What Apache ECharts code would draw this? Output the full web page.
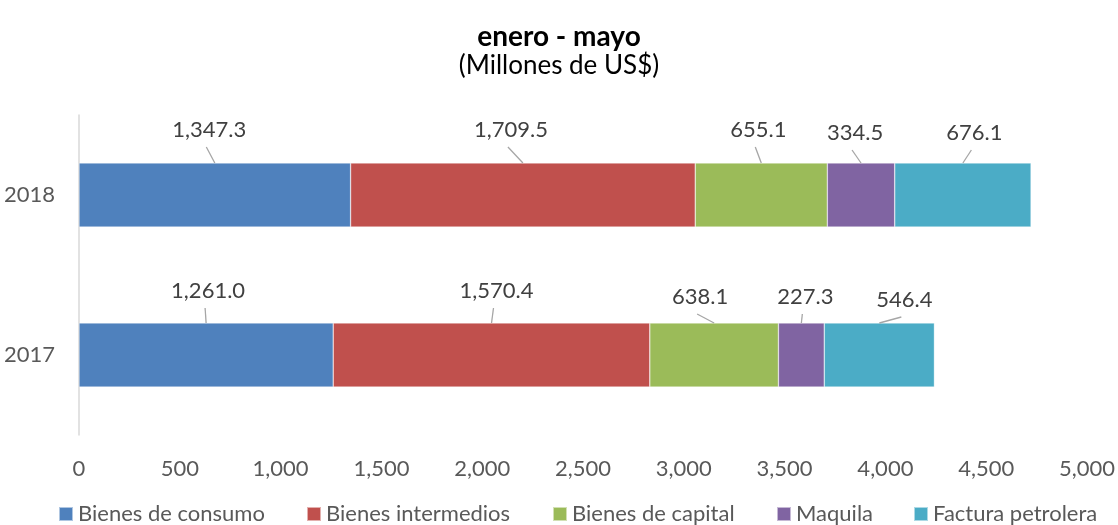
<!DOCTYPE html>
<html>
<head>
<meta charset="utf-8">
<script src="https://cdn.jsdelivr.net/npm/echarts@6/dist/echarts.min.js"></script>
<style>
html,body{margin:0;padding:0;background:#fff;}
#chart{width:1118px;height:525px;}
</style>
</head>
<body>
<div id="chart"></div>
<script>
var categories = ['2017', '2018'];
var seriesNames = ['Bienes de consumo', 'Bienes intermedios', 'Bienes de capital', 'Maquila', 'Factura petrolera'];
var bienesConsumo = [1261.0, 1347.3];
var bienesIntermedios = [1570.4, 1709.5];
var bienesCapital = [638.1, 655.1];
var maquila = [227.3, 334.5];
var facturaPetrolera = [546.4, 676.1];
var xTicks = [0, 500, 1000, 1500, 2000, 2500, 3000, 3500, 4000, 4500, 5000];

var seriesValues = [bienesConsumo, bienesIntermedios, bienesCapital, maquila, facturaPetrolera];
var colors = ['#4F81BD', '#C0504D', '#9BBB59', '#8064A2', '#4BACC6'];
var FONT = 'Lato';
var BAR_W = 64;

// layout: label nudges (pixels) relative to segment top-centre, per category then series
var labelNudge = {
  '2017': [[2, -32], [5, -32], [-14, -26], [4, -26], [25, -23]],
  '2018': [[-5.5, -33], [-12, -33], [-3, -33], [-6, -30], [11.5, -30]]
};

function fmt(v, d) {
  return Number(v).toLocaleString('en-US', {minimumFractionDigits: d, maximumFractionDigits: d});
}

var labelItems = [];
categories.forEach(function (c, ci) {
  var acc = 0;
  seriesValues.forEach(function (arr, si) {
    labelItems.push([acc + arr[ci] / 2, ci, arr[ci], si]);
    acc += arr[ci];
  });
});

var legendLefts = [58, 306, 552, 776, 913];

var chart = echarts.init(document.getElementById('chart'));
var series = seriesNames.map(function (n, i) {
  return {
    name: n,
    type: 'bar',
    stack: 'total',
    barWidth: BAR_W,
    data: seriesValues[i],
    itemStyle: {color: colors[i], borderColor: 'rgba(255,255,255,0.55)', borderWidth: 0.6}
  };
});
series.push({
  type: 'custom',
  name: 'labels',
  silent: true,
  z: 5,
  data: labelItems,
  encode: {x: 0, y: 1},
  renderItem: function (params, api) {
    var ci = api.value(1), si = api.value(3);
    var p = api.coord([api.value(0), ci]);
    var top = p[1] - BAR_W / 2;
    var nudge = labelNudge[categories[ci]][si];
    var lx = p[0] + nudge[0];
    var ly = top + nudge[1];
    var children = [{
      type: 'text',
      style: {
        x: lx, y: ly, text: fmt(api.value(2), 1),
        align: 'center', verticalAlign: 'middle',
        fontFamily: FONT, fontSize: 22, fill: '#404040'
      }
    }];
    var lineTop = ly + 17;
    if (top - lineTop > 3) {
      children.push({
        type: 'line',
        shape: {x1: p[0], y1: top, x2: lx - 3, y2: lineTop},
        style: {stroke: '#a6a6a6', lineWidth: 1.3}
      });
    }
    return {type: 'group', children: children};
  }
});

chart.setOption({
  animation: false,
  textStyle: {fontFamily: FONT},
  title: [{
    text: 'enero - mayo',
    left: 'center',
    top: 18,
    textStyle: {fontFamily: FONT, fontSize: 28, fontWeight: 'bold', color: '#000'}
  }, {
    text: '(Millones de US$)',
    left: 'center',
    top: 48,
    textStyle: {fontFamily: FONT, fontSize: 26, fontWeight: 'normal', color: '#000'}
  }],
  legend: seriesNames.map(function (n, i) {
    return {
      data: [n],
      left: legendLefts[i],
      top: 503,
      padding: 0,
      itemWidth: 14,
      itemHeight: 14,
      icon: 'rect',
      textStyle: {fontFamily: FONT, fontSize: 22, color: '#595959', padding: [0, 0, 0, 0]}
    };
  }),
  grid: {left: 79, right: 28, top: 115, bottom: 90},
  xAxis: {
    type: 'value',
    min: 0,
    max: 5000,
    interval: 500,
    axisLine: {show: false},
    axisTick: {show: false},
    splitLine: {show: false},
    axisLabel: {
      fontFamily: FONT, fontSize: 22, color: '#595959', margin: 23,
      formatter: function (v) { return xTicks.indexOf(v) >= 0 ? fmt(v, 0) : ''; }
    }
  },
  yAxis: {
    type: 'category',
    data: categories,
    axisLine: {show: true, lineStyle: {color: '#d9d9d9', width: 1.5}},
    axisTick: {show: false},
    axisLabel: {fontFamily: FONT, fontSize: 22, color: '#595959', margin: 24}
  },
  series: series
});
</script>
</body>
</html>
